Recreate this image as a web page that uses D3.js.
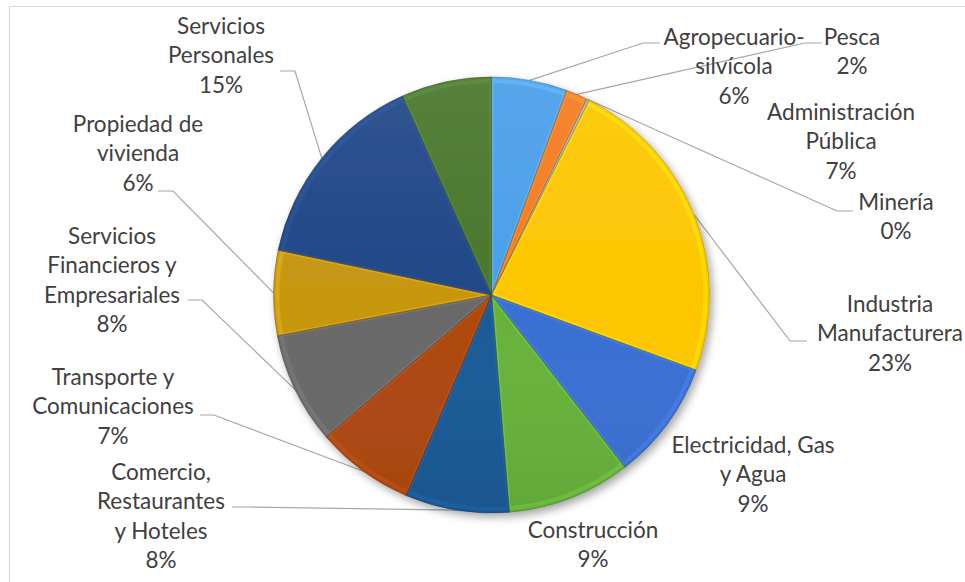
<!DOCTYPE html>
<html>
<head>
<meta charset="utf-8">
<script src="https://cdn.jsdelivr.net/npm/d3@7"></script>
<style>
  body { margin: 0; background: #fff; }
  svg { display: block; }
</style>
</head>
<body>
<svg id="chart" width="965" height="582"></svg>
<script>
const categories = [
  "Agropecuario-silvícola", "Pesca", "Minería", "Industria Manufacturera",
  "Electricidad, Gas y Agua", "Construcción", "Comercio, Restaurantes y Hoteles",
  "Transporte y Comunicaciones", "Servicios Financieros y Empresariales",
  "Propiedad de vivienda", "Servicios Personales", "Administración Pública",
];
const shares = [5.6, 1.6, 0.2, 23.2, 8.9, 9.2, 7.7, 7.3, 8.3, 6.3, 15.0, 6.7];
const labelLines = [
  ["Agropecuario-", "silvícola"], ["Pesca"], ["Minería"], ["Industria", "Manufacturera"],
  ["Electricidad, Gas", "y Agua"], ["Construcción"], ["Comercio,", "Restaurantes", "y Hoteles"],
  ["Transporte y", "Comunicaciones"], ["Servicios", "Financieros y", "Empresariales"],
  ["Propiedad de", "vivienda"], ["Servicios", "Personales"], ["Administración", "Pública"],
];

// layout: where Excel put each label (center x, first line center y) and leader elbows
const labelPos = [
  [734, 37], [852, 37], [896, 202], [890, 304], [753, 445], [593, 530],
  [161, 472], [113, 377], [112, 236], [138, 124], [221, 26], [841, 112],
];
const leaderPts = [
  [[643, 43], [660, 43]], [[805, 43], [822, 43]], [[837, 211], [853, 211]],
  [[790, 341], [807, 341]], null, null,
  [[248, 507], [232, 507]], [[214, 415], [200, 415]], [[202, 300], [188, 300]],
  [[173, 191], [158, 191]], [[295, 71], [280, 71]], null,
];
const colors = [
  "#4a9eea", "#f47b20", "#a5a5a5", "#fdc600", "#3a6fd3", "#67b23b",
  "#1b5a97", "#ae480f", "#696969", "#c6960f", "#1f4686", "#48762a",
];

const cx = 491.5, cy = 295, R = 218, lineH = 29.3;
const svg = d3.select("#chart");
const defs = svg.append("defs");

defs.append("filter").attr("id", "shadow")
  .attr("x", "-20%").attr("y", "-20%").attr("width", "140%").attr("height", "140%")
  .append("feDropShadow")
  .attr("dx", 3).attr("dy", 4).attr("stdDeviation", 4)
  .attr("flood-color", "#000").attr("flood-opacity", 0.35);

const shade = defs.append("linearGradient").attr("id", "shade")
  .attr("x1", 0).attr("y1", 0).attr("x2", 0).attr("y2", 1);
shade.append("stop").attr("offset", "0%").attr("stop-color", "#fff").attr("stop-opacity", 0.08);
shade.append("stop").attr("offset", "55%").attr("stop-color", "#fff").attr("stop-opacity", 0);
shade.append("stop").attr("offset", "100%").attr("stop-color", "#000").attr("stop-opacity", 0.06);

// chart area border
svg.append("rect")
  .attr("x", 9.5).attr("y", 6.5).attr("width", 1000).attr("height", 700)
  .attr("fill", "none").attr("stroke", "#d9d9d9");

const arcs = d3.pie().sort(null).value((d) => d)(shares);
const arc = d3.arc().innerRadius(0).outerRadius(R);
const inset = d3.arc().innerRadius(0).outerRadius(R - 4);
const rim = d3.arc().innerRadius(R).outerRadius(R);
const pct = d3.format(".0%");
const total = d3.sum(shares);

const g = svg.append("g").attr("transform", `translate(${cx},${cy})`);

// leader lines
g.selectAll(".leader")
  .data(arcs.filter((d, i) => leaderPts[i]))
  .join("polyline")
  .attr("class", "leader")
  .attr("fill", "none")
  .attr("stroke", "#a6a6a6")
  .attr("stroke-width", 1.2)
  .attr("points", (d) => {
    const p = rim.centroid(d);
    const pts = [p].concat(leaderPts[d.index].map(([x, y]) => [x - cx, y - cy]));
    return pts.map((q) => q.join(",")).join(" ");
  });

const pie = g.append("g").attr("filter", "url(#shadow)");

arcs.forEach((d, i) => {
  defs.append("clipPath").attr("id", `clip${i}`).append("path").attr("d", arc(d));
});

pie.selectAll(".slice")
  .data(arcs)
  .join("path")
  .attr("class", "slice")
  .attr("d", arc)
  .attr("fill", (d, i) => colors[i]);

// bevel highlight along the edges of each slice
pie.selectAll(".bevel")
  .data(arcs)
  .join("path")
  .attr("class", "bevel")
  .attr("d", inset)
  .attr("clip-path", (d, i) => `url(#clip${i})`)
  .attr("fill", "none")
  .attr("stroke", (d, i) => d3.color(colors[i]).brighter(0.6))
  .attr("stroke-opacity", 0.45)
  .attr("stroke-width", 4);

pie.selectAll(".edge")
  .data(arcs)
  .join("path")
  .attr("class", "edge")
  .attr("d", arc)
  .attr("fill", "none")
  .attr("stroke", (d, i) => d3.color(colors[i]).darker(1))
  .attr("stroke-opacity", 0.7)
  .attr("stroke-width", 0.8);

pie.append("circle").attr("r", R).attr("fill", "url(#shade)");

// labels
const labels = svg.selectAll(".label")
  .data(arcs)
  .join("text")
  .attr("class", "label")
  .attr("text-anchor", "middle")
  .attr("font-family", "Lato, 'Open Sans', sans-serif")
  .attr("font-size", 22.5)
  .attr("fill", "#404040");

labels.each(function (d, i) {
  const lines = labelLines[i].concat([pct(d.data / total)]);
  const [x, y] = labelPos[i];
  d3.select(this).selectAll("tspan")
    .data(lines)
    .join("tspan")
    .attr("x", x)
    .attr("y", (t, j) => y + 8 + j * lineH)
    .text((t) => t);
});
</script>
</body>
</html>
